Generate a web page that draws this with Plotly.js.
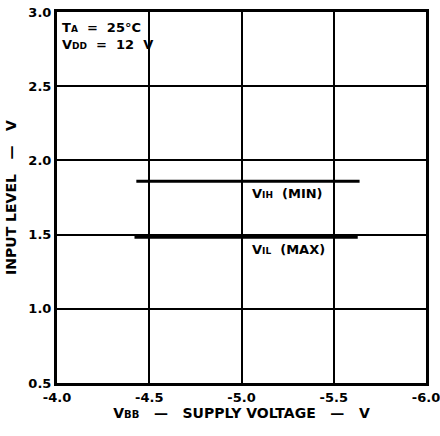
<!DOCTYPE html>
<html>
<head>
<meta charset="utf-8">
<script src="https://cdn.plot.ly/plotly-3.0.1.min.js"></script>
<style>html,body{margin:0;padding:0;background:#fff;}#chart{width:440px;height:436px;}</style>
</head>
<body>
<div id="chart"></div>
<script>
const vihX = [-4.43, -5.64];
const vihY = [1.86, 1.86];
const vilX = [-4.42, -5.63];
const vilY = [1.485, 1.485];
const xTicks = [-4.0, -4.5, -5.0, -5.5, -6.0];
const xTickText = ['-4.0', '-4.5', '-5.0', '-5.5', '-6.0'];
const yTicks = [0.5, 1.0, 1.5, 2.0, 2.5, 3.0];
const yTickText = ['0.5', '1.0', '1.5', '2.0', '2.5', '3.0'];

const fontFam = '"DejaVu Sans", "Liberation Sans", Arial, sans-serif';
const S = '\u00a0';
const sm = t => '<span style="font-size:9px">' + t + '</span>';
const traces = [
  {x: vihX, y: vihY, mode: 'lines', line: {color: '#000', width: 3}, hoverinfo: 'skip'},
  {x: vilX, y: vilY, mode: 'lines', line: {color: '#000', width: 4}, hoverinfo: 'skip'}
];
const f = {family: fontFam, size: 13, weight: 'bold', color: '#000'};
const ft = {family: fontFam, size: 14, weight: 'bold', color: '#000'};
const smT = t => '<span style="font-size:10px">' + t + '</span>';
const layout = {
  width: 440, height: 436,
  margin: {l: 57, r: 14, t: 12, b: 53},
  paper_bgcolor: '#fff', plot_bgcolor: '#fff',
  showlegend: false,
  font: f,
  xaxis: {
    range: [-4.0, -6.0], tickvals: xTicks, ticktext: xTickText,
    showgrid: true, gridcolor: '#000', gridwidth: 2,
    showline: true, linecolor: '#000', linewidth: 3, mirror: true,
    zeroline: false, ticks: '', ticklen: 0, ticklabeloverflow: 'allow',
    tickfont: f,
    title: {text: 'V' + smT('BB') + S + S + S + '—' + S + S + S + 'SUPPLY' + S + 'VOLTAGE' + S + S + S + '—' + S + S + S + 'V', font: ft, standoff: 5}
  },
  yaxis: {
    range: [0.5, 3.0], tickvals: yTicks, ticktext: yTickText,
    showgrid: true, gridcolor: '#000', gridwidth: 2,
    showline: true, linecolor: '#000', linewidth: 3, mirror: true,
    zeroline: false, ticks: '', ticklen: 0, ticklabeloverflow: 'allow',
    tickfont: f,
    title: {text: 'INPUT' + S + 'LEVEL' + S + S + S + '—' + S + S + S + 'V', font: ft, standoff: 9}
  },
  annotations: [
    {xref: 'paper', yref: 'paper', x: 0.008, y: 0.985, xanchor: 'left', yanchor: 'top', align: 'left',
     text: 'T' + sm('A') + S + S + '=' + S + S + '25°C<br>V' + sm('DD') + S + S + '=' + S + S + '12' + S + S + 'V', showarrow: false,
     font: f},
    {xref: 'x', yref: 'y', x: -5.045, y: 1.86, xanchor: 'left', yanchor: 'top', yshift: -3,
     text: 'V' + sm('IH') + S + S + '(MIN)', showarrow: false, font: f},
    {xref: 'x', yref: 'y', x: -5.045, y: 1.485, xanchor: 'left', yanchor: 'top', yshift: -3,
     text: 'V' + sm('IL') + S + S + '(MAX)', showarrow: false, font: f}
  ]
};
Plotly.newPlot('chart', traces, layout, {staticPlot: true, displayModeBar: false});
</script>
</body>
</html>
